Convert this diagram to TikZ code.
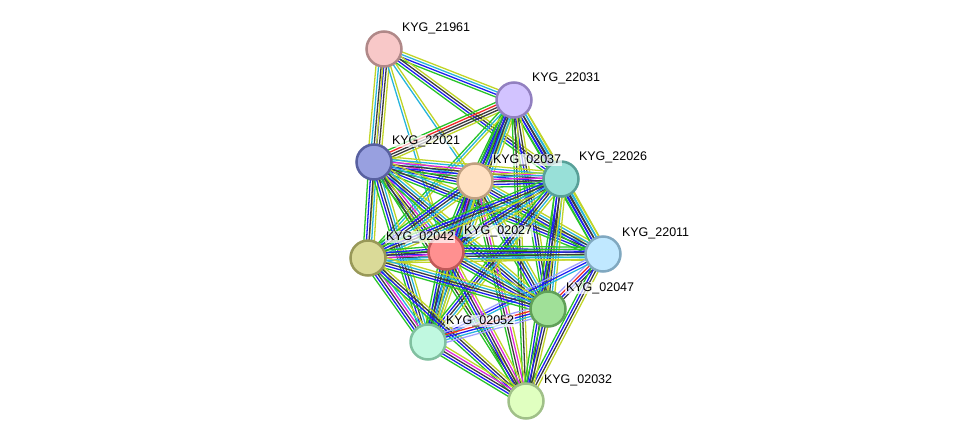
\documentclass[tikz,border=0pt]{standalone}
\usepackage{fontspec}
\setmainfont{Liberation Sans}
\usepackage{tikz}
\usetikzlibrary{calc}

\definecolor{eg}{RGB}{40,195,40}
\definecolor{eb}{RGB}{30,30,240}
\definecolor{ek}{RGB}{60,60,60}
\definecolor{ec}{RGB}{40,180,220}
\definecolor{ey}{RGB}{192,212,40}
\definecolor{er}{RGB}{240,40,40}
\definecolor{em}{RGB}{220,40,220}
\definecolor{el}{RGB}{160,160,255}

\tikzset{
  prot/.style={circle, minimum size=35pt, inner sep=0pt, line width=2.5pt},
  lbl/.style={anchor=west, inner sep=0.8pt, fill=white, fill opacity=0.7, text opacity=1,
    font=\fontsize{12.5}{14}\selectfont},
  ln/.style={line width=1.3pt}
}

\newcommand\edgeset[3]{%
  \foreach \col [count=\i] in {#3} {\xdef\nbl{\i}}%
  \foreach \col [count=\i] in {#3} {%
    \pgfmathsetmacro\off{(\i-(\nbl+1)/2)*2.6}%
    \draw[ln,\col] ($(#1)!\off pt!90:(#2)$) -- ($(#2)!\off pt!-90:(#1)$);
  }}

\begin{document}
\begin{tikzpicture}[x=1pt,y=-1pt]
\useasboundingbox (0,0) rectangle (976,447);
\coordinate (p21961) at (384,49);
\coordinate (p22031) at (514,100);
\coordinate (p22021) at (374,162);
\coordinate (p02037) at (475,181);
\coordinate (p22026) at (561,179);
\coordinate (p22011) at (603,254);
\coordinate (p02027) at (446,252);
\coordinate (p02042) at (368,258);
\coordinate (p02047) at (548,309);
\coordinate (p02052) at (428,342);
\coordinate (p02032) at (526,401);

\edgeset{p21961}{p22031}{eg,eb,ec,ey}
\edgeset{p21961}{p22021}{ey,ec,ek,eb,ek,ey}
\edgeset{p21961}{p02037}{ec,ey}
\edgeset{p21961}{p22026}{eg,eb,ek,ey}
\edgeset{p21961}{p02027}{ec,ey}
\edgeset{p21961}{p02042}{ey}

\edgeset{p22031}{p22021}{eg,er,ek,ek,ey}
\edgeset{p22031}{p02037}{eg,eb,ek,ec,ey}
\edgeset{p22031}{p22026}{eg,eb,ek,ec,ey}
\edgeset{p22031}{p22011}{eg,eb,ek,ec,ey}
\edgeset{p22031}{p02027}{eg,eb,ek,ec,ey}
\edgeset{p22031}{p02042}{eg,ec,ey}
\edgeset{p22031}{p02047}{eg,eb,ek,ey}
\edgeset{p22031}{p02052}{eg,eb,ek,ec,ey}
\edgeset{p22031}{p02032}{eg,ek,ey}

\edgeset{p22021}{p02037}{eg,eb,ek,em,ec,ey}
\edgeset{p22021}{p22026}{eg,eb,ek,em,ec,ey}
\edgeset{p22021}{p22011}{eg,eb,ek,ec,ey}
\edgeset{p22021}{p02027}{eg,eb,ek,em,ec,ey}
\edgeset{p22021}{p02042}{eg,eb,ek,ec,ey}
\edgeset{p22021}{p02047}{eg,eb,ek,ec,ey}
\edgeset{p22021}{p02052}{eg,eb,ek,ec,ey}
\edgeset{p22021}{p02032}{eg,ek,ey}

\edgeset{p02037}{p22026}{eg,eb,ek,em,ec,ey}
\edgeset{p02037}{p22011}{eg,eb,ek,ec,ey}
\edgeset{p02037}{p02027}{eg,eb,ek,em,ec,ey}
\edgeset{p02037}{p02042}{eg,eb,ek,ec,ey}
\edgeset{p02037}{p02047}{eg,eb,ek,ec,ey}
\edgeset{p02037}{p02052}{eg,eb,ek,ec,ey}
\edgeset{p02037}{p02032}{eg,ek,em,ey}

\edgeset{p22026}{p22011}{eg,eb,ek,ec,ey}
\edgeset{p22026}{p02027}{eg,eb,ek,ec,ey}
\edgeset{p22026}{p02042}{eg,eb,ek,ec,ey}
\edgeset{p22026}{p02047}{eg,eb,ek,ec,ey}
\edgeset{p22026}{p02052}{eg,eb,ek,ec,ey}
\edgeset{p22026}{p02032}{eg,eb,ek,ey}

\edgeset{p22011}{p02027}{eg,eb,ek,eg,ec,ey}
\edgeset{p22011}{p02042}{eg,eb,ek,ec,ey}
\edgeset{p22011}{p02047}{el,er,eb,ek}
\edgeset{p22011}{p02052}{el,eb,ec}
\edgeset{p22011}{p02032}{eg,eb,ek,ey}

\edgeset{p02027}{p02042}{eg,eb,ek,em,ec,ey}
\edgeset{p02027}{p02047}{eg,eb,ek,ec,ey}
\edgeset{p02027}{p02052}{eg,eb,ek,ec,ey}
\edgeset{p02027}{p02032}{eg,eb,ek,em,ey}

\edgeset{p02042}{p02047}{eg,eb,ek,ec,ey}
\edgeset{p02042}{p02052}{eg,eb,ek,em,ec,ey}
\edgeset{p02042}{p02032}{eg,eb,ek,ey}

\edgeset{p02047}{p02052}{el,er,eb,ec,el}
\edgeset{p02047}{p02032}{eg,eb,ek,ey}

\edgeset{p02052}{p02032}{eg,eb,ek,em,ey}

\node[prot, fill={rgb,255:red,248;green,200;blue,200}, draw={rgb,255:red,176;green,136;blue,136}] (n21961) at (p21961) {};
\node[prot, fill={rgb,255:red,210;green,195;blue,255}, draw={rgb,255:red,146;green,128;blue,192}] (n22031) at (p22031) {};
\node[prot, fill={rgb,255:red,152;green,160;blue,224}, draw={rgb,255:red,88;green,96;blue,160}] (n22021) at (p22021) {};
\node[prot, fill={rgb,255:red,255;green,224;blue,194}, draw={rgb,255:red,192;green,160;blue,128}] (n02037) at (p02037) {};
\node[prot, fill={rgb,255:red,152;green,224;blue,216}, draw={rgb,255:red,88;green,160;blue,152}] (n22026) at (p22026) {};
\node[prot, fill={rgb,255:red,192;green,232;blue,255}, draw={rgb,255:red,128;green,168;blue,192}] (n22011) at (p22011) {};
\node[prot, fill={rgb,255:red,255;green,144;blue,144}, draw={rgb,255:red,192;green,88;blue,88}] (n02027) at (p02027) {};
\node[prot, fill={rgb,255:red,218;green,218;blue,152}, draw={rgb,255:red,152;green,152;blue,88}] (n02042) at (p02042) {};
\node[prot, fill={rgb,255:red,160;green,224;blue,152}, draw={rgb,255:red,96;green,160;blue,88}] (n02047) at (p02047) {};
\node[prot, fill={rgb,255:red,192;green,248;blue,224}, draw={rgb,255:red,128;green,192;blue,160}] (n02052) at (p02052) {};
\node[prot, fill={rgb,255:red,224;green,255;blue,192}, draw={rgb,255:red,160;green,192;blue,136}] (n02032) at (p02032) {};

\node[lbl] (l21961) at ([shift={(17,-21)}]p21961) {KYG\_21961};
\node[lbl] (l22031) at ([shift={(17,-22)}]p22031) {KYG\_22031};
\node[lbl] (l22021) at ([shift={(17,-21)}]p22021) {KYG\_22021};
\node[lbl] (l02037) at ([shift={(17,-21)}]p02037) {KYG\_02037};
\node[lbl] (l22026) at ([shift={(17,-22)}]p22026) {KYG\_22026};
\node[lbl] (l22011) at ([shift={(18,-21)}]p22011) {KYG\_22011};
\node[lbl] (l02027) at ([shift={(17,-21)}]p02027) {KYG\_02027};
\node[lbl] (l02042) at ([shift={(17,-21)}]p02042) {KYG\_02042};
\node[lbl] (l02047) at ([shift={(17,-21)}]p02047) {KYG\_02047};
\node[lbl] (l02052) at ([shift={(17,-21)}]p02052) {KYG\_02052};
\node[lbl] (l02032) at ([shift={(17,-21)}]p02032) {KYG\_02032};
\end{tikzpicture}
\end{document}
